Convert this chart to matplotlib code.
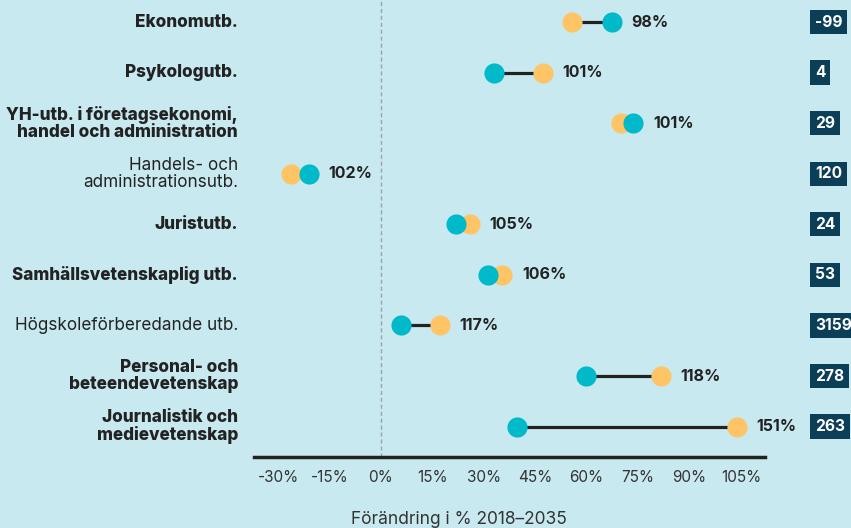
import matplotlib.pyplot as plt
from matplotlib.transforms import blended_transform_factory

# data
labels = ['Ekonomutb.', 'Psykologutb.',
          'YH-utb. i företagsekonomi,\nhandel och administration',
          'Handels- och\nadministrationsutb.', 'Juristutb.',
          'Samhällsvetenskaplig utb.', 'Högskoleförberedande utb.',
          'Personal- och\nbeteendevetenskap', 'Journalistik och\nmedievetenskap']
bold = [True, True, True, False, True, True, False, True, True]
teal_vals = [67.3, 33.0, 73.5, -21.0, 21.9, 31.2, 5.8, 59.8, 39.7]
yellow_vals = [55.7, 47.2, 70.0, -26.2, 25.9, 35.3, 17.2, 81.6, 103.8]
pct_labels = ['98%', '101%', '101%', '102%', '105%', '106%', '117%', '118%', '151%']
box_vals = ['-99', '4', '29', '120', '24', '53', '3159', '278', '263']
ticks = [-30, -15, 0, 15, 30, 45, 60, 75, 90, 105]

bg = '#c8e9f0'
teal = '#00b9c9'
yellow = '#ffc466'
dark = '#222222'
navy = '#0b3e57'

plt.rcParams['font.family'] = ['Inter', 'DejaVu Sans']

fig = plt.figure(figsize=(8.51, 5.28), dpi=100, facecolor=bg)
ax = fig.add_axes([254 / 851, 1 - 457 / 528, (765 - 254) / 851, 457 / 528])
ax.set_facecolor(bg)
ax.set_xlim(-37.0, 112.0)
ax.set_ylim(-8.6, 0.435)

ax.axvline(0, color='#9aa5ab', lw=1, ls=(0, (3, 2)), zorder=1)

for i in range(len(labels)):
    y = -i
    ax.plot([teal_vals[i], yellow_vals[i]], [y, y], color=dark, lw=2.3, zorder=2)
    ax.plot(yellow_vals[i], y, 'o', ms=14.5, color=yellow, mec='none', zorder=3)
    ax.plot(teal_vals[i], y, 'o', ms=14.5, color=teal, mec='none', zorder=4)
    right = max(teal_vals[i], yellow_vals[i])
    ax.text(right + 5.8, y, pct_labels[i], ha='left', va='center',
            fontsize=11.5, fontweight='bold', color=dark)

tr = blended_transform_factory(fig.transFigure, ax.transData)
for i, lab in enumerate(labels):
    ax.text(238 / 851, -i, lab, transform=tr, ha='right', va='center',
            fontsize=12.3, fontweight='heavy' if bold[i] else 'normal',
            color=dark, linespacing=1.0, clip_on=False)
    ax.text(815 / 851, -i, box_vals[i], transform=tr, ha='left', va='center',
            fontsize=11.2, fontweight='bold', color='white', clip_on=False,
            bbox=dict(boxstyle='square,pad=0.3', fc=navy, ec='none'))

ax.set_xticks(ticks)
ax.set_xticklabels([f'{t}%' for t in ticks], fontsize=11, color='#333333')
ax.tick_params(axis='x', length=0, pad=9)
ax.set_yticks([])
for s in ['top', 'right', 'left']:
    ax.spines[s].set_visible(False)
ax.spines['bottom'].set_color(dark)
ax.spines['bottom'].set_linewidth(2.5)

fig.text(459 / 851, 1 - 520 / 528, 'Förändring i % 2018–2035', ha='center',
         va='center', fontsize=12.5, color='#333333')

fig.savefig('out.png', dpi=100, facecolor=bg)
